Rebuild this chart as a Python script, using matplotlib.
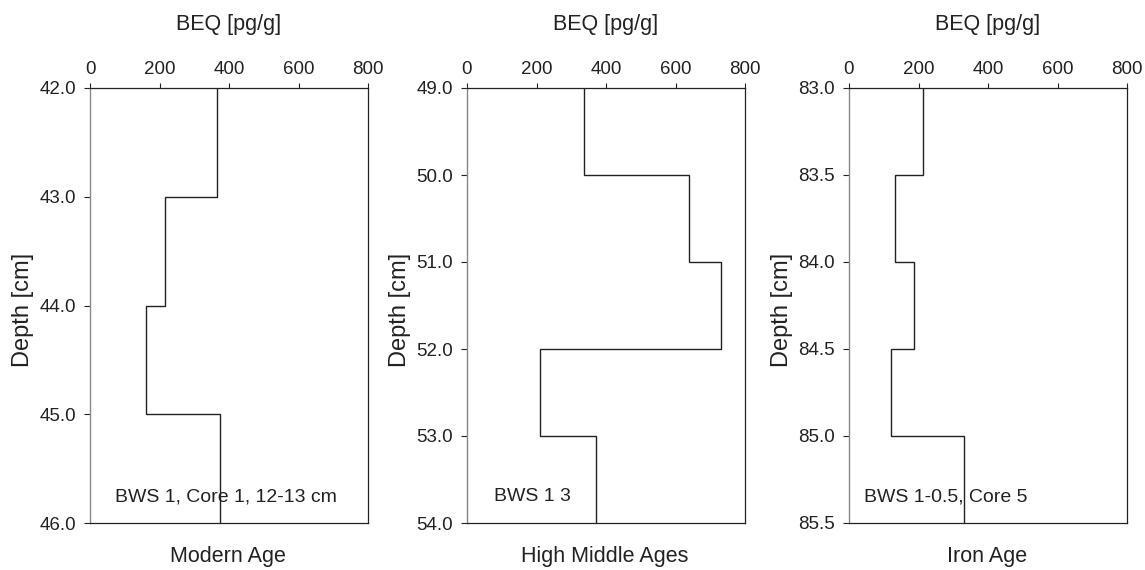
import matplotlib.pyplot as plt

plt.rcParams['font.family'] = ['Liberation Sans', 'DejaVu Sans']

# profundidades (limites das camadas) e valores BEQ
prof_moderna = [42.0, 43.0, 44.0, 45.0, 46.0]
beq_moderna = [365, 217, 160, 374]

prof_media = [49.0, 50.0, 51.0, 52.0, 53.0, 54.0]
beq_media = [338, 638, 732, 210, 370]

prof_ferro = [83.0, 83.5, 84.0, 84.5, 85.0, 85.5]
beq_ferro = [212, 132, 188, 122, 330]

titulos = ['Modern Age', 'High Middle Ages', 'Iron Age']
amostras = ['BWS 1, Core 1, 12-13 cm', 'BWS 1 3', 'BWS 1-0.5, Core 5']
yticks = [
    [42.0, 43.0, 44.0, 45.0, 46.0],
    [49.0, 50.0, 51.0, 52.0, 53.0, 54.0],
    [83.0, 83.5, 84.0, 84.5, 85.0, 85.5],
]
dados = [(prof_moderna, beq_moderna), (prof_media, beq_media), (prof_ferro, beq_ferro)]

W, H = 1145, 570
fig = plt.figure(figsize=(W / 100, H / 100), dpi=100)

cor = '#222222'
lefts = [90, 467, 849]
# posição x do texto da amostra e alinhamento
pos_amostra = [(0.49, 'center'), (0.097, 'left'), (0.054, 'left')]

for i, (prof, beq) in enumerate(dados):
    ax = fig.add_axes([lefts[i] / W, 47 / H, 278 / W, 435 / H])
    ax.stairs(beq, prof, orientation='horizontal', baseline=None,
              color=cor, linewidth=1.0)
    ax.set_xlim(0, 800)
    ax.set_ylim(prof[-1], prof[0])
    ax.set_xticks([0, 200, 400, 600, 800])
    ax.set_yticks(yticks[i])
    ax.set_yticklabels([f'{v:.1f}' for v in yticks[i]])
    ax.xaxis.tick_top()
    ax.tick_params(axis='x', labelsize=13.5, length=3.5, width=0.8, pad=4, colors=cor)
    ax.tick_params(axis='y', labelsize=13.5, length=4, width=0.8, pad=6, colors=cor)
    ax.set_ylabel('Depth [cm]', fontsize=17, color=cor)
    ax.yaxis.set_label_coords(-0.2, 0.49)
    for lado in ['top', 'right', 'bottom']:
        ax.spines[lado].set_color(cor)
        ax.spines[lado].set_linewidth(0.9)
    ax.spines['left'].set_color('#888888')
    ax.spines['left'].set_linewidth(1.0)
    ax.text(0.5, 1.145, 'BEQ [pg/g]', transform=ax.transAxes, ha='center',
            va='center', fontsize=15.5, color=cor)
    ax.text(0.497, -0.078, titulos[i], transform=ax.transAxes, ha='center',
            va='center', fontsize=15.5, color=cor)
    x_am, ha_am = pos_amostra[i]
    ax.text(x_am, 0.06, amostras[i], transform=ax.transAxes, ha=ha_am,
            va='center', fontsize=14, color=cor)

fig.savefig('out.png', dpi=100)
